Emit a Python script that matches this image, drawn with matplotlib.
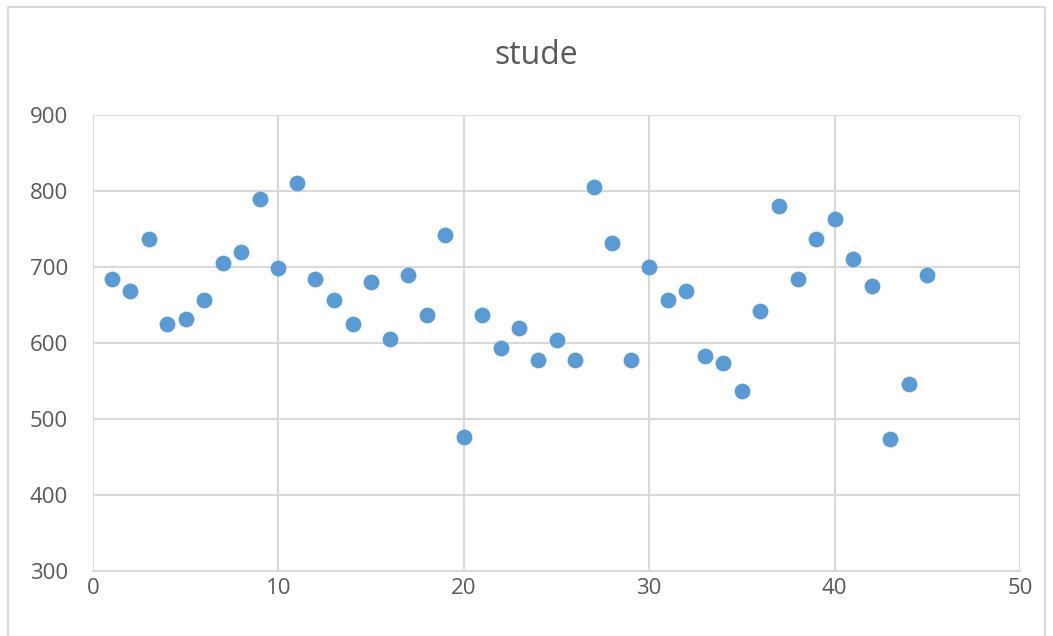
import matplotlib.pyplot as plt
from matplotlib.patches import Rectangle

# values
student = list(range(1, 46))
score = [684, 668, 737, 625, 632, 657, 705, 720, 789, 699,
         810, 684, 657, 625, 680, 605, 689, 637, 742, 476,
         637, 593, 620, 578, 604, 578, 805, 732, 578, 700,
         657, 668, 583, 574, 537, 642, 780, 684, 737, 763,
         711, 675, 474, 546, 689]

x_ticks = [0, 10, 20, 30, 40, 50]
y_ticks = [300, 400, 500, 600, 700, 800, 900]

plt.rcParams['font.family'] = ['Open Sans', 'DejaVu Sans']
text_col = '#595959'
grid_col = '#d9d9d9'

fig = plt.figure(figsize=(10.53, 6.36), dpi=100)
ax = fig.add_axes([93 / 1053, 1 - 571 / 636, (1020 - 93) / 1053, (571 - 115) / 636])

# chart area border
fig.patches.append(Rectangle((8 / 1053, -0.05), (1045 - 8) / 1053, 1.05 - 7 / 636,
                             transform=fig.transFigure, fill=False,
                             edgecolor=grid_col, linewidth=1.5))

ax.scatter(student, score, s=130, color='#5b9bd5', zorder=3, linewidths=0)

ax.set_xlim(0, 50)
ax.set_ylim(300, 900)
ax.set_xticks(x_ticks)
ax.set_yticks(y_ticks)
ax.grid(True, color=grid_col, linewidth=1.5)
ax.set_axisbelow(True)
for side in ['left', 'right', 'top']:
    ax.spines[side].set_visible(False)
ax.spines['bottom'].set_color(grid_col)
ax.spines['bottom'].set_linewidth(1.5)
ax.tick_params(length=0, labelsize=16, colors=text_col)
ax.tick_params(axis='x', pad=5)
ax.tick_params(axis='y', pad=18)

fig.text(536 / 1053, 1 - 55 / 636, 'stude', ha='center', va='center',
         fontsize=23, color=text_col)

fig.savefig('out.png', dpi=100)
